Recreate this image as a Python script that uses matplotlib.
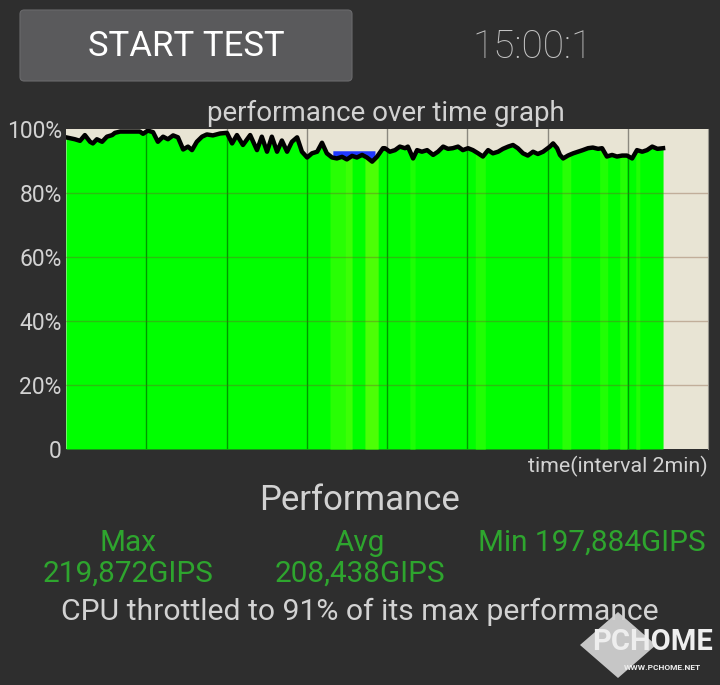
import matplotlib.pyplot as plt
from matplotlib.patches import FancyBboxPatch, Polygon
import numpy as np

plt.rcParams['font.family'] = ['Roboto', 'DejaVu Sans']

# ---------------------------------------------------------------------
# Data (time in minutes, performance in %)
# ---------------------------------------------------------------------
minutes = [0.00, 0.22, 0.35, 0.47, 0.60, 0.67, 0.77, 0.90, 1.02, 1.15, 1.22, 1.35,
           1.60, 1.84, 1.92, 2.04, 2.17, 2.29, 2.42, 2.54, 2.67, 2.79, 2.92, 3.04,
           3.14, 3.26, 3.39, 3.51, 3.66, 3.84, 4.01, 4.14, 4.26, 4.41, 4.59, 4.76,
           4.88, 5.01, 5.13, 5.26, 5.38, 5.51, 5.63, 5.76, 5.88, 6.01, 6.13, 6.26,
           6.38, 6.50, 6.63, 6.75, 6.88, 7.00, 7.13, 7.25, 7.38, 7.50, 7.63, 7.75,
           7.90, 7.95, 8.07, 8.20, 8.32, 8.45, 8.52, 8.65, 8.75, 8.87, 9.00, 9.15,
           9.27, 9.40, 9.52, 9.64, 9.77, 9.89, 10.02, 10.14, 10.27, 10.39, 10.52, 10.64,
           10.77, 10.89, 11.02, 11.14, 11.26, 11.39, 11.51, 11.64, 11.76, 11.89, 12.06, 12.14,
           12.24, 12.31, 12.39, 12.51, 12.64, 12.76, 12.88, 13.01, 13.13, 13.26, 13.36, 13.48,
           13.61, 13.73, 13.86, 13.98, 14.11, 14.23, 14.36, 14.48, 14.61, 14.74, 14.88]
performance = [97.4, 96.8, 96.3, 98.1, 96.0, 95.5, 96.8, 96.0, 97.6, 98.1, 98.8, 99.2,
               99.2, 99.2, 98.5, 99.5, 99.0, 96.0, 97.6, 96.8, 98.0, 97.4, 93.6, 94.5,
               93.4, 96.0, 97.6, 98.3, 98.0, 98.6, 98.8, 95.5, 98.1, 95.0, 98.1, 93.4,
               97.6, 92.9, 97.6, 92.9, 96.4, 92.9, 96.0, 97.4, 92.9, 91.1, 92.4, 92.9,
               95.7, 92.4, 91.1, 90.8, 91.3, 90.5, 91.6, 91.1, 91.9, 91.1, 89.8, 91.3,
               94.0, 94.0, 92.9, 93.4, 94.5, 94.0, 94.5, 90.8, 93.4, 92.9, 93.4, 91.9,
               92.9, 94.5, 93.8, 94.0, 94.5, 93.4, 94.0, 93.4, 92.4, 91.4, 93.4, 92.4,
               92.9, 93.8, 94.5, 95.0, 94.0, 92.4, 91.7, 92.9, 92.2, 92.9, 94.5, 95.5,
               94.0, 91.9, 90.8, 91.7, 92.4, 92.9, 93.4, 94.0, 94.2, 93.8, 94.0, 91.4,
               91.9, 91.4, 91.7, 91.7, 90.8, 93.4, 92.9, 93.4, 94.5, 93.8, 94.0]

# lighter green bands in the fill (start, end, colour)
stripe_start = [6.58, 6.95, 7.45, 8.57, 10.20, 12.36, 13.30, 13.80, 14.20]
stripe_end = [6.95, 7.13, 7.78, 8.70, 10.45, 12.58, 13.50, 13.97, 14.30]
stripe_color = ['#28ff04', '#3cff06', '#4cff06', '#1cff04', '#20ff04',
                '#28ff06', '#20ff04', '#24ff04', '#20ff04']

# blue segment at the top of the fill
blue_start, blue_end, blue_level = 6.65, 7.70, 93.2

y_ticks = [0, 20, 40, 60, 80, 100]
y_labels = ['0', '20%', '40%', '60%', '80%', '100%']
x_ticks = [2, 4, 6, 8, 10, 12, 14]

BG = '#2e2e2e'
TXT = '#d2d2d2'
GREEN_TXT = '#2ea52e'

t = np.array(minutes)
v = np.array(performance)

fig = plt.figure(figsize=(7.2, 6.85), dpi=100, facecolor=BG)

# ---------------------------------------------------------------------
# Header: button + timer
# ---------------------------------------------------------------------
btn = FancyBboxPatch((20 / 720, 1 - 81 / 685), 332 / 720, 71 / 685,
                     boxstyle="round,pad=0,rounding_size=0.006",
                     transform=fig.transFigure, facecolor='#5a5a5c',
                     edgecolor='#6a6a6c', linewidth=0.8)
fig.patches.append(btn)
fig.text(186 / 720, 1 - 47 / 685, 'START TEST', color='white', fontsize=25,
         ha='center', va='center')
fig.text(533 / 720, 1 - 47 / 685, '15:00:1', color='#c4c4c4', fontsize=28,
         ha='center', va='center', fontweight='light')

# ---------------------------------------------------------------------
# Graph
# ---------------------------------------------------------------------
ax = fig.add_axes([66 / 720, 1 - 449 / 685, 642 / 720, 320 / 685])
ax.set_facecolor('#e8e4d4')

ax.fill_between(t, 0, v, color='#00ff00', linewidth=0, zorder=1)
for s0, s1, c in zip(stripe_start, stripe_end, stripe_color):
    m = (t >= s0) & (t <= s1)
    ts = np.concatenate(([s0], t[m], [s1]))
    vs = np.interp(ts, t, v)
    ax.fill_between(ts, 0, vs, color=c, linewidth=0, zorder=1.5)

mb = (t >= blue_start) & (t <= blue_end)
tb = np.concatenate(([blue_start], t[mb], [blue_end]))
vb = np.interp(tb, t, v)
ax.fill_between(tb, vb, np.maximum(vb, blue_level), color='#2038ff',
                linewidth=0, zorder=1.8)

for xt in x_ticks:
    ax.axvline(xt, color='black', alpha=0.4, linewidth=1.0, zorder=2)
for yt in y_ticks[1:-1]:
    ax.axhline(yt, color='#7a4a30', alpha=0.35, linewidth=1.0, zorder=2)

ax.plot(t, v, color='black', linewidth=3.2, solid_joinstyle='round', zorder=3)

ax.set_xlim(0, 16)
ax.set_ylim(0, 100)
ax.set_yticks(y_ticks)
ax.set_yticklabels(y_labels)
ax.set_xticks([])
ax.tick_params(axis='y', length=0, pad=3, labelsize=16.5, labelcolor=TXT)
for sp in ax.spines.values():
    sp.set_visible(False)
ax.spines['right'].set_visible(True)
ax.spines['right'].set_color('#9a9890')
ax.spines['right'].set_linewidth(0.8)

fig.text(386 / 720, 1 - 113 / 685, 'performance over time graph', color=TXT,
         fontsize=20, ha='center', va='center')
fig.text(708 / 720, 1 - 466 / 685, 'time(interval 2min)', color=TXT,
         fontsize=15.4, ha='right', va='center')

# ---------------------------------------------------------------------
# Summary text
# ---------------------------------------------------------------------
fig.text(360 / 720, 1 - 500 / 685, 'Performance', color=TXT, fontsize=25,
         ha='center', va='center')
fig.text(128 / 720, 1 - 543 / 685, 'Max', color=GREEN_TXT, fontsize=21.4,
         ha='center', va='center')
fig.text(128 / 720, 1 - 574 / 685, '219,872GIPS', color=GREEN_TXT, fontsize=21.4,
         ha='center', va='center')
fig.text(360 / 720, 1 - 543 / 685, 'Avg', color=GREEN_TXT, fontsize=21.4,
         ha='center', va='center')
fig.text(360 / 720, 1 - 574 / 685, '208,438GIPS', color=GREEN_TXT, fontsize=21.4,
         ha='center', va='center')
fig.text(592 / 720, 1 - 543 / 685, 'Min 197,884GIPS', color=GREEN_TXT, fontsize=21.4,
         ha='center', va='center')
fig.text(360 / 720, 1 - 612 / 685, 'CPU throttled to 91% of its max performance',
         color=TXT, fontsize=21.7, ha='center', va='center')

# watermark
dia = Polygon([(580 / 720, 1 - 645 / 685), (618 / 720, 1 - 612 / 685),
               (656 / 720, 1 - 645 / 685), (618 / 720, 1 - 678 / 685)],
              closed=True, transform=fig.transFigure, facecolor='#d8d8d8',
              edgecolor='none', alpha=0.9)
fig.patches.append(dia)
fig.text(653 / 720, 1 - 642 / 685, 'PCHOME', color='#eeeeee', fontsize=21,
         fontweight='bold', ha='center', va='center')
fig.text(662 / 720, 1 - 668 / 685, 'WWW.PCHOME.NET', color='#eeeeee', fontsize=6,
         fontweight='bold', ha='center', va='center')

fig.savefig('out.png', dpi=100, facecolor=BG)
